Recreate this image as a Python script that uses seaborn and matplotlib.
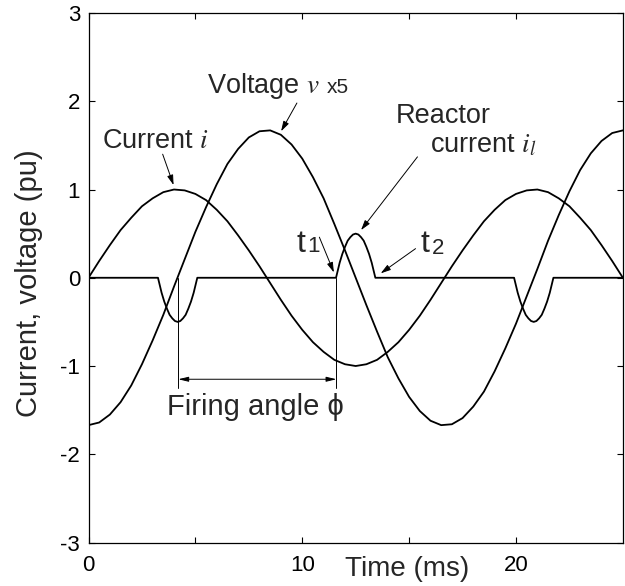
import matplotlib
matplotlib.use("Agg")
import matplotlib.pyplot as plt
import seaborn as sns
import pandas as pd

# time axis (ms) for the line current and the voltage
time_ms = [0, 0.5, 1, 1.5, 2, 2.5, 3, 3.5, 4, 4.5, 5, 5.5, 6, 6.5, 7, 7.5, 8, 8.5,
           9, 9.5, 10, 10.5, 11, 11.5, 12, 12.5, 13, 13.5, 14, 14.5, 15, 15.5, 16,
           16.5, 17, 17.5, 18, 18.5, 19, 19.5, 20, 20.5, 21, 21.5, 22, 22.5, 23,
           23.5, 24, 24.5, 25]

current_i = [0.00, 0.19, 0.37, 0.54, 0.68, 0.81, 0.90, 0.97, 1.00, 0.99, 0.95, 0.88,
             0.77, 0.64, 0.48, 0.31, 0.13, -0.06, -0.25, -0.43, -0.59, -0.73, -0.84,
             -0.93, -0.98, -1.00, -0.98, -0.93, -0.84, -0.73, -0.59, -0.43, -0.25,
             -0.06, 0.13, 0.31, 0.48, 0.64, 0.77, 0.88, 0.95, 0.99, 1.00, 0.97, 0.90,
             0.81, 0.68, 0.54, 0.37, 0.19, 0.00]

voltage_x5 = [-1.67, -1.64, -1.55, -1.41, -1.22, -0.98, -0.71, -0.42, -0.10, 0.21,
              0.52, 0.80, 1.06, 1.29, 1.46, 1.59, 1.66, 1.67, 1.62, 1.51, 1.35, 1.14,
              0.90, 0.61, 0.31, 0.00, -0.31, -0.61, -0.90, -1.14, -1.35, -1.51, -1.62,
              -1.67, -1.66, -1.59, -1.46, -1.29, -1.06, -0.80, -0.52, -0.21, 0.10, 0.42,
              0.71, 0.98, 1.22, 1.41, 1.55, 1.64, 1.67]

pulse_offset = [-0.92, -0.85, -0.75, -0.625, -0.5, -0.375, -0.25, -0.125, 0,
                0.125, 0.25, 0.375, 0.5, 0.625, 0.75, 0.85, 0.92]
pulse_shape = [0.00, 0.07, 0.17, 0.27, 0.35, 0.42, 0.46, 0.49, 0.50,
               0.49, 0.46, 0.42, 0.35, 0.27, 0.17, 0.07, 0.00]
pulse_centre = [4.17, 12.5, 20.83]
pulse_sign = [-1, 1, -1]

fire_start = 4.2    # ms
fire_end = 11.6     # ms (t1)

il_t = [0.0]
il_v = [0.0]
for c, s in zip(pulse_centre, pulse_sign):
    il_t += [c + o for o in pulse_offset]
    il_v += [s * p for p in pulse_shape]
il_t.append(25.0)
il_v.append(0.0)

df = pd.DataFrame({"t": time_ms, "i": current_i, "v": voltage_x5})
dfl = pd.DataFrame({"t": il_t, "il": il_v})

sns.set_theme(style="ticks")
plt.rcParams["font.family"] = ["Liberation Sans", "DejaVu Sans"]
plt.rcParams["mathtext.fontset"] = "stix"
plt.rcParams["axes.unicode_minus"] = False

fig = plt.figure(figsize=(6.25, 5.86), dpi=100)
ax = fig.add_axes([0.1416, 0.0742, 0.855, 0.9036])

sns.lineplot(data=df, x="t", y="i", ax=ax, color="black", lw=1.3)
sns.lineplot(data=df, x="t", y="v", ax=ax, color="black", lw=1.3)
sns.lineplot(data=dfl, x="t", y="il", ax=ax, color="black", lw=1.3)

ax.set_xlim(0, 25)
ax.set_ylim(-3, 3)
ax.set_xticks([0, 5, 10, 15, 20])
ax.set_xticklabels(["0", "", "10", "", "20"])
ax.set_yticks([-3, -2, -1, 0, 1, 2, 3])
ax.set_yticklabels(["-3", "-2", "-1", "0", "1", "2", "3"])
ax.tick_params(direction="in", top=True, right=True, length=4, width=0.8,
               labelsize=16, colors="black")
ax.tick_params(axis="x", pad=9)
ax.tick_params(axis="y", pad=6)
for sp in ax.spines.values():
    sp.set_linewidth(0.9)
    sp.set_color("black")

ax.set_xlabel("Time (ms)", fontsize=20)
ax.xaxis.set_label_coords(0.597, -0.025)
ax.set_ylabel("Current, voltage (pu)", fontsize=21)
ax.yaxis.set_label_coords(-0.085, 0.49)

# firing angle marker
ax.plot([fire_start, fire_start], [0, -1.25], color="black", lw=0.7)
ax.plot([fire_end, fire_end], [0, -1.25], color="black", lw=0.7)
ax.annotate("", xy=(fire_start, -1.15), xytext=(fire_end, -1.15),
            arrowprops=dict(arrowstyle="<|-|>,head_length=0.5,head_width=0.12",
                            lw=0.7, color="black", shrinkA=0, shrinkB=0))
ax.text(3.66, -1.56, "Firing angle ϕ", fontsize=21, va="baseline")

arrow = dict(arrowstyle="-|>,head_length=0.5,head_width=0.15", lw=0.7,
             color="black", shrinkA=0, shrinkB=0)

ax.text(0.63, 1.47, "Current $i$", fontsize=19.5, va="baseline")
ax.annotate("", xy=(3.98, 1.05), xytext=(3.47, 1.40), arrowprops=arrow)

ax.text(5.56, 2.09, "Voltage $v$", fontsize=19.5, va="baseline")
ax.text(11.15, 2.09, "x5", fontsize=15, va="baseline")
ax.annotate("", xy=(9.01, 1.66), xytext=(9.75, 1.98), arrowprops=arrow)

ax.text(14.37, 1.75, "Reactor", fontsize=19.5, va="baseline")
ax.text(15.99, 1.42, "current $i_l$", fontsize=19.5, va="baseline")
ax.annotate("", xy=(12.75, 0.54), xytext=(15.39, 1.37), arrowprops=arrow)

ax.text(9.75, 0.29, "t", fontsize=23, va="baseline")
ax.text(10.22, 0.29, "1", fontsize=16, va="baseline")
ax.annotate("", xy=(11.48, 0.06), xytext=(10.8, 0.46), arrowprops=arrow)

ax.text(15.53, 0.29, "t", fontsize=23, va="baseline")
ax.text(16.05, 0.27, "2", fontsize=16, va="baseline")
ax.annotate("", xy=(13.67, 0.05), xytext=(15.3, 0.33), arrowprops=arrow)

fig.savefig("out.png", dpi=100)
